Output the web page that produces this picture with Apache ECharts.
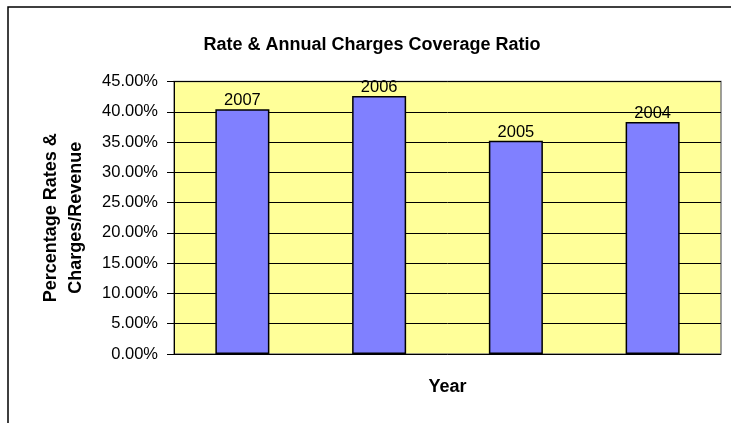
<!DOCTYPE html>
<html>
<head>
<meta charset="utf-8">
<script src="https://cdn.jsdelivr.net/npm/echarts@6/dist/echarts.min.js"></script>
<style>html,body{margin:0;padding:0;background:#fff;}#c{width:731px;height:423px;}</style>
</head>
<body>
<div id="c"></div>
<script>
const categories = ['2007', '2006', '2005', '2004'];
const coverageRatio = [40.4, 42.6, 35.2, 38.3];
const yTicks = { min: 0, max: 45, interval: 5 };

const chart = echarts.init(document.getElementById('c'), null, { renderer: 'canvas' });
const font = '"Liberation Sans", Arial, sans-serif';
chart.setOption({
  animation: false,
  backgroundColor: '#ffffff',
  graphic: [{
    type: 'rect', z: -1,
    shape: { x: 8, y: 7, width: 800, height: 500 },
    style: { fill: 'none', stroke: '#000', lineWidth: 1.5 }
  }],
  title: {
    text: 'Rate & Annual Charges Coverage Ratio',
    left: 367, top: 31, textAlign: 'center',
    textStyle: { fontFamily: font, fontSize: 18, fontWeight: 'bold', color: '#000' }
  },
  grid: {
    left: 174, top: 81.5, right: 10, bottom: 69,
    show: true, backgroundColor: '#FFFF99', borderColor: '#808080', borderWidth: 1.5
  },
  xAxis: {
    type: 'category', data: categories,
    axisLine: { show: false }, axisTick: { show: false }, axisLabel: { show: false },
    name: 'Year', nameLocation: 'middle', nameGap: 24,
    nameTextStyle: { fontFamily: font, fontSize: 18, fontWeight: 'bold', color: '#000' }
  },
  yAxis: {
    type: 'value', min: yTicks.min, max: yTicks.max, interval: yTicks.interval,
    axisLine: { show: true, lineStyle: { color: '#000', width: 1 } },
    axisTick: { show: true, length: 7, lineStyle: { color: '#000' } },
    splitLine: { show: true, lineStyle: { color: '#000', width: 1 } },
    axisLabel: {
      formatter: v => v.toFixed(2) + '%', margin: 16,
      fontFamily: font, fontSize: 16.5, color: '#000'
    },
    name: 'Percentage Rates &\nCharges/Revenue', nameLocation: 'middle', nameGap: 85,
    nameRotate: 90,
    nameTextStyle: { fontFamily: font, fontSize: 18, fontWeight: 'bold', color: '#000', lineHeight: 25 }
  },
  series: [{
    type: 'bar', data: coverageRatio, barWidth: '39.5%',
    itemStyle: { color: '#8080FF', borderColor: '#000', borderWidth: 1.5 },
    label: {
      show: true, position: 'top', distance: 0,
      formatter: p => p.name,
      fontFamily: font, fontSize: 16.5, color: '#000'
    }
  }]
});
</script>
</body>
</html>
